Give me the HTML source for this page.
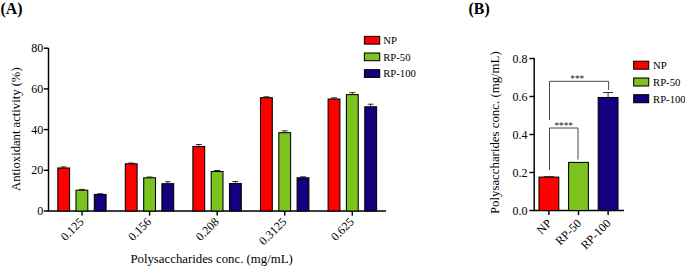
<!DOCTYPE html>
<html><head><meta charset="utf-8"><title>Chart</title>
<style>
html,body{margin:0;padding:0;background:#fff;}
body{width:685px;height:267px;overflow:hidden;}
svg{display:block;font-family:"Liberation Serif","Times New Roman",serif;fill:#000;}
</style></head><body>
<svg width="685" height="267" viewBox="0 0 685 267">
<rect x="0" y="0" width="685" height="267" fill="#fff"/>

<text x="0.6" y="13.7" font-size="15.8" font-weight="bold">(A)</text>
<text x="468.6" y="13.7" font-size="15.8" font-weight="bold">(B)</text>
<path d="M48.5 48 V211.0 H386" fill="none" stroke="#000" stroke-width="1.45"/>
<path d="M43.8 211.0 H48.5" stroke="#000" stroke-width="1.45"/>
<text x="43.3" y="215.0" font-size="12" text-anchor="end">0</text>
<path d="M43.8 170.3 H48.5" stroke="#000" stroke-width="1.45"/>
<text x="43.3" y="174.3" font-size="12" text-anchor="end">20</text>
<path d="M43.8 129.6 H48.5" stroke="#000" stroke-width="1.45"/>
<text x="43.3" y="133.6" font-size="12" text-anchor="end">40</text>
<path d="M43.8 88.9 H48.5" stroke="#000" stroke-width="1.45"/>
<text x="43.3" y="92.9" font-size="12" text-anchor="end">60</text>
<path d="M43.8 48.2 H48.5" stroke="#000" stroke-width="1.45"/>
<text x="43.3" y="52.2" font-size="12" text-anchor="end">80</text>
<path d="M63.6 168.0 V166.9 M60.6 166.9 H66.7" stroke="#000" stroke-width="0.8" fill="none"/>
<rect x="57.8" y="168.0" width="11.8" height="43.0" fill="#fe0000" stroke="#000" stroke-width="1.05"/>
<path d="M82.0 190.2 V189.4 M79.0 189.4 H85.0" stroke="#000" stroke-width="0.8" fill="none"/>
<rect x="76.0" y="190.2" width="11.8" height="20.8" fill="#7dc31f" stroke="#000" stroke-width="1.05"/>
<path d="M100.2 194.5 V193.7 M97.2 193.7 H103.2" stroke="#000" stroke-width="0.8" fill="none"/>
<rect x="94.3" y="194.5" width="11.8" height="16.5" fill="#13007e" stroke="#000" stroke-width="1.05"/>
<path d="M82.0 211.0 V215.6" stroke="#000" stroke-width="1.45"/>
<text transform="translate(84.5,222.5) rotate(-45)" font-size="12" text-anchor="end">0.125</text>
<path d="M131.2 163.8 V163.0 M128.2 163.0 H134.2" stroke="#000" stroke-width="0.8" fill="none"/>
<rect x="125.3" y="163.8" width="11.8" height="47.2" fill="#fe0000" stroke="#000" stroke-width="1.05"/>
<path d="M149.6 177.8 V177.0 M146.6 177.0 H152.6" stroke="#000" stroke-width="0.8" fill="none"/>
<rect x="143.7" y="177.8" width="11.8" height="33.2" fill="#7dc31f" stroke="#000" stroke-width="1.05"/>
<path d="M167.8 183.7 V181.7 M164.8 181.7 H170.8" stroke="#000" stroke-width="0.8" fill="none"/>
<rect x="161.9" y="183.7" width="11.8" height="27.3" fill="#13007e" stroke="#000" stroke-width="1.05"/>
<path d="M149.6 211.0 V215.6" stroke="#000" stroke-width="1.45"/>
<text transform="translate(152.1,222.5) rotate(-45)" font-size="12" text-anchor="end">0.156</text>
<path d="M198.8 146.5 V144.5 M195.8 144.5 H201.8" stroke="#000" stroke-width="0.8" fill="none"/>
<rect x="192.9" y="146.5" width="11.8" height="64.5" fill="#fe0000" stroke="#000" stroke-width="1.05"/>
<path d="M217.2 171.5 V170.5 M214.2 170.5 H220.2" stroke="#000" stroke-width="0.8" fill="none"/>
<rect x="211.2" y="171.5" width="11.8" height="39.5" fill="#7dc31f" stroke="#000" stroke-width="1.05"/>
<path d="M235.4 183.5 V181.5 M232.4 181.5 H238.4" stroke="#000" stroke-width="0.8" fill="none"/>
<rect x="229.5" y="183.5" width="11.8" height="27.5" fill="#13007e" stroke="#000" stroke-width="1.05"/>
<path d="M217.2 211.0 V215.6" stroke="#000" stroke-width="1.45"/>
<text transform="translate(219.7,222.5) rotate(-45)" font-size="12" text-anchor="end">0.208</text>
<path d="M266.4 97.7 V96.8 M263.4 96.8 H269.4" stroke="#000" stroke-width="0.8" fill="none"/>
<rect x="260.5" y="97.7" width="11.8" height="113.3" fill="#fe0000" stroke="#000" stroke-width="1.05"/>
<path d="M284.7 132.7 V130.8 M281.7 130.8 H287.7" stroke="#000" stroke-width="0.8" fill="none"/>
<rect x="278.8" y="132.7" width="11.8" height="78.3" fill="#7dc31f" stroke="#000" stroke-width="1.05"/>
<path d="M303.0 177.8 V176.8 M300.0 176.8 H306.0" stroke="#000" stroke-width="0.8" fill="none"/>
<rect x="297.1" y="177.8" width="11.8" height="33.2" fill="#13007e" stroke="#000" stroke-width="1.05"/>
<path d="M284.7 211.0 V215.6" stroke="#000" stroke-width="1.45"/>
<text transform="translate(287.2,222.5) rotate(-45)" font-size="12" text-anchor="end">0.3125</text>
<path d="M334.0 99.0 V97.8 M331.0 97.8 H337.0" stroke="#000" stroke-width="0.8" fill="none"/>
<rect x="328.1" y="99.0" width="11.8" height="112.0" fill="#fe0000" stroke="#000" stroke-width="1.05"/>
<path d="M352.3 94.6 V92.6 M349.3 92.6 H355.3" stroke="#000" stroke-width="0.8" fill="none"/>
<rect x="346.4" y="94.6" width="11.8" height="116.4" fill="#7dc31f" stroke="#000" stroke-width="1.05"/>
<path d="M370.6 106.8 V104.2 M367.6 104.2 H373.6" stroke="#000" stroke-width="0.8" fill="none"/>
<rect x="364.8" y="106.8" width="11.8" height="104.2" fill="#13007e" stroke="#000" stroke-width="1.05"/>
<path d="M352.3 211.0 V215.6" stroke="#000" stroke-width="1.45"/>
<text transform="translate(354.8,222.5) rotate(-45)" font-size="12" text-anchor="end">0.625</text>
<text transform="translate(20.1,129.2) rotate(-90)" font-size="12.65" text-anchor="middle">Antioxidant activity (%)</text>
<text x="211.6" y="262.6" font-size="12.8" text-anchor="middle">Polysaccharides conc. (mg/mL)</text>
<rect x="364.4" y="36.4" width="15.3" height="7.7" fill="#fe0000" stroke="#000" stroke-width="1.05"/>
<text x="383.2" y="44.0" font-size="10.7">NP</text>
<rect x="364.4" y="53.0" width="15.3" height="7.7" fill="#7dc31f" stroke="#000" stroke-width="1.05"/>
<text x="383.2" y="60.6" font-size="10.7">RP-50</text>
<rect x="364.4" y="69.7" width="15.3" height="7.7" fill="#13007e" stroke="#000" stroke-width="1.05"/>
<text x="383.2" y="77.3" font-size="10.7">RP-100</text>
<path d="M534.2 58 V210.5 H624" fill="none" stroke="#000" stroke-width="1.45"/>
<path d="M529.4000000000001 210.5 H534.2" stroke="#000" stroke-width="1.45"/>
<text x="527.4000000000001" y="214.5" font-size="12" text-anchor="end">0.0</text>
<path d="M529.4000000000001 172.5 H534.2" stroke="#000" stroke-width="1.45"/>
<text x="527.4000000000001" y="176.5" font-size="12" text-anchor="end">0.2</text>
<path d="M529.4000000000001 134.5 H534.2" stroke="#000" stroke-width="1.45"/>
<text x="527.4000000000001" y="138.5" font-size="12" text-anchor="end">0.4</text>
<path d="M529.4000000000001 96.5 H534.2" stroke="#000" stroke-width="1.45"/>
<text x="527.4000000000001" y="100.5" font-size="12" text-anchor="end">0.6</text>
<path d="M529.4000000000001 58.5 H534.2" stroke="#000" stroke-width="1.45"/>
<text x="527.4000000000001" y="62.5" font-size="12" text-anchor="end">0.8</text>
<path d="M548.9 177.1 V176.7 M543.9 176.7 H553.9" stroke="#000" stroke-width="0.8" fill="none"/>
<rect x="539.0" y="177.1" width="19.8" height="33.4" fill="#fe0000" stroke="#000" stroke-width="1.05"/>
<path d="M548.9 210.5 V215.1" stroke="#000" stroke-width="1.45"/>
<text transform="translate(552.4,224.1) rotate(-45)" font-size="12" text-anchor="end">NP</text>
<rect x="568.6" y="162.4" width="19.8" height="48.1" fill="#7dc31f" stroke="#000" stroke-width="1.05"/>
<path d="M578.5 210.5 V215.1" stroke="#000" stroke-width="1.45"/>
<text transform="translate(582.0,224.1) rotate(-45)" font-size="12" text-anchor="end">RP-50</text>
<path d="M608.1 97.5 V92.5 M603.1 92.5 H613.1" stroke="#000" stroke-width="0.8" fill="none"/>
<rect x="598.2" y="97.5" width="19.8" height="113.0" fill="#13007e" stroke="#000" stroke-width="1.05"/>
<path d="M608.1 210.5 V215.1" stroke="#000" stroke-width="1.45"/>
<text transform="translate(611.6,224.1) rotate(-45)" font-size="12" text-anchor="end">RP-100</text>
<path d="M549.5 120 V81.3 H608.6 V90" fill="none" stroke="#333" stroke-width="0.9"/>
<path d="M549.5 170 V128 H578 V159.5" fill="none" stroke="#333" stroke-width="0.9"/>
<text x="577.3" y="82.4" font-size="9.3" fill="#222" text-anchor="middle">***</text>
<text x="563.7" y="129.2" font-size="9.3" fill="#222" text-anchor="middle">****</text>
<text transform="translate(499,132.7) rotate(-90)" font-size="12.84" text-anchor="middle">Polysaccharides conc. (mg/mL)</text>
<rect x="633.7" y="61.2" width="15" height="8" fill="#fe0000" stroke="#000" stroke-width="1.05"/>
<text x="653" y="69.1" font-size="10.7">NP</text>
<rect x="633.7" y="78.0" width="15" height="8" fill="#7dc31f" stroke="#000" stroke-width="1.05"/>
<text x="653" y="85.9" font-size="10.7">RP-50</text>
<rect x="633.7" y="94.7" width="15" height="8" fill="#13007e" stroke="#000" stroke-width="1.05"/>
<text x="653" y="102.6" font-size="10.7">RP-100</text>
</svg></body></html>
